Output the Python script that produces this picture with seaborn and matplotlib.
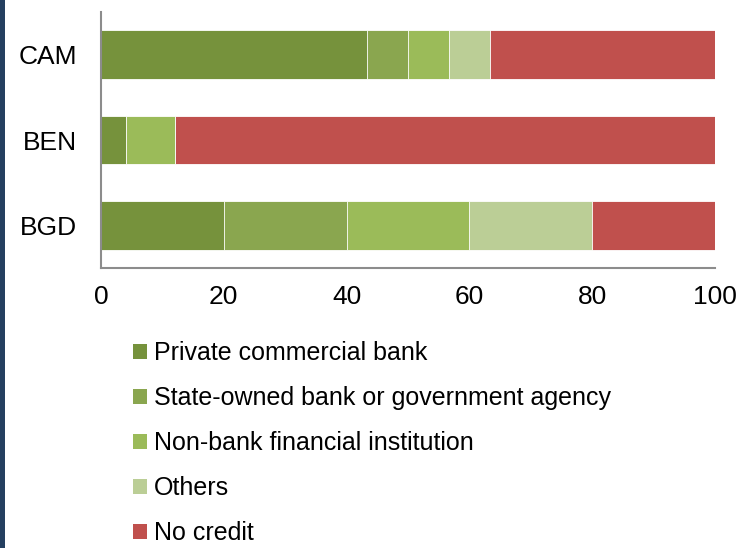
import matplotlib
matplotlib.use("Agg")
import matplotlib.pyplot as plt
from matplotlib.patches import Patch, Rectangle
import seaborn as sns
import pandas as pd
import numpy as np

countries = ["CAM", "BEN", "BGD"]
series = ["Private commercial bank", "State-owned bank or government agency",
          "Non-bank financial institution", "Others", "No credit"]
private_bank = [43.3, 4.0, 20.0]
state_bank = [6.7, 0.0, 20.0]
nonbank = [6.7, 8.0, 20.0]
others = [6.7, 0.0, 20.0]
no_credit = [36.6, 88.0, 20.0]
colors = ["#76923C", "#8AA64F", "#9BBB59", "#BBCE96", "#C0504D"]
xticks = [0, 20, 40, 60, 80, 100]

sns.set_theme(style="white")
plt.rcParams["font.family"] = ["Liberation Sans", "DejaVu Sans"]

fig = plt.figure(figsize=(7.5, 5.48), dpi=100)
fig.patch.set_facecolor("white")
ax = fig.add_axes([101/750, 1-268/548, (715-101)/750, (268-12)/548])

vals = np.array([private_bank, state_bank, nonbank, others, no_credit])
cum = np.cumsum(vals, axis=0)
for i in range(len(series) - 1, -1, -1):
    df = pd.DataFrame({"country": countries, "value": cum[i]})
    sns.barplot(data=df, x="value", y="country", order=countries, orient="h",
                color=colors[i], saturation=1, width=0.57, ax=ax,
                edgecolor="white", linewidth=0.6)

ax.set_xlim(0, 100)
ax.set_ylim(2.5, -0.5)
ax.set_xticks(xticks)
ax.set_xticklabels([str(t) for t in xticks])
ax.set_xlabel("")
ax.set_ylabel("")
ax.tick_params(axis="both", length=0, labelsize=19, colors="black")
ax.tick_params(axis="x", pad=12)
ax.tick_params(axis="y", pad=17)
for s in ["top", "right"]:
    ax.spines[s].set_visible(False)
for s in ["left", "bottom"]:
    ax.spines[s].set_color("#8C8C8C")
    ax.spines[s].set_linewidth(1.5)

handles = [Patch(facecolor=c, edgecolor="none") for c in colors]
leg = fig.legend(handles, series, loc="upper left", bbox_to_anchor=(133/750, 1-341/548),
                 frameon=False, fontsize=18, handlelength=0.55, handleheight=0.55,
                 handletextpad=0.3, labelspacing=0.84, borderpad=0, borderaxespad=0)
for t in leg.get_texts():
    t.set_color("black")

fig.patches.append(Rectangle((0, 0), 5/750, 1, transform=fig.transFigure,
                             facecolor="#243F60", edgecolor="none"))

fig.savefig("out.png", dpi=100)
